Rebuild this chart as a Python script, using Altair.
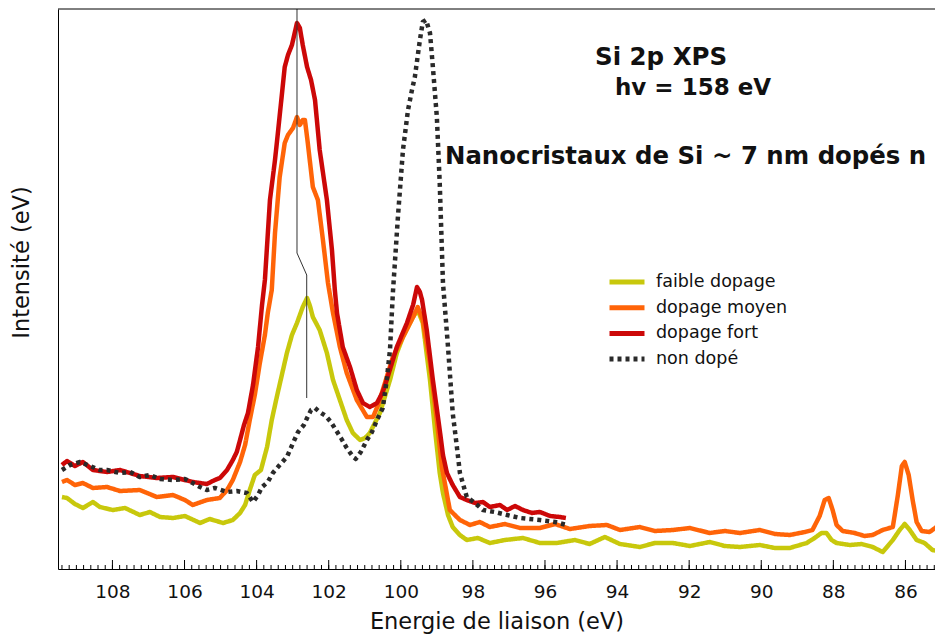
import altair as alt
import numpy as np
import pandas as pd

NAMES = ["faible dopage", "dopage moyen", "dopage fort", "non dopé"]
COLORS = ["#c8c80c", "#ff6408", "#cc0808", "#2a2a2a"]
DASHES = [[1, 0], [1, 0], [1, 0], [4, 4]]

# binding energy (eV) / intensity (arb.)
red_e = [109.40, 109.26, 109.04, 108.82, 108.54, 108.15, 107.79, 107.24, 106.77, 106.32, 105.77, 105.38, 105.16, 105.02, 104.82, 104.66, 104.55, 104.46, 104.35, 104.24, 104.10, 103.96, 103.85, 103.77, 103.63, 103.49, 103.41, 103.22, 103.13, 103.02, 102.88, 102.80, 102.72, 102.60, 102.49, 102.38, 102.25, 102.05, 101.91, 101.83, 101.77, 101.61, 101.41, 101.22, 101.05, 100.86, 100.66, 100.50, 100.39, 100.11, 99.83, 99.66, 99.55, 99.47, 99.41, 99.28, 99.11, 98.92, 98.83, 98.72, 98.56, 98.36, 98.17, 97.94, 97.72, 97.53, 97.25, 97.05, 96.83, 96.61, 96.36, 96.14, 95.86, 95.59, 95.42]
red_i = [104, 108, 103, 107, 99, 97, 99, 93, 91, 92, 87, 85, 89, 91, 99, 109, 117, 129, 144, 156, 184, 222, 264, 289, 369, 409, 436, 502, 514, 524, 546, 541, 524, 502, 489, 469, 419, 369, 319, 279, 256, 222, 202, 179, 166, 162, 166, 177, 189, 222, 246, 264, 282, 277, 269, 239, 189, 139, 114, 96, 84, 72, 69, 66, 67, 62, 64, 59, 63, 59, 56, 57, 53, 52, 51]

org_e = [109.40, 109.26, 109.04, 108.82, 108.54, 108.15, 107.79, 107.24, 106.77, 106.32, 105.99, 105.77, 105.38, 105.02, 104.82, 104.66, 104.46, 104.32, 104.19, 104.05, 103.91, 103.77, 103.69, 103.58, 103.49, 103.36, 103.22, 103.13, 102.99, 102.88, 102.80, 102.72, 102.66, 102.58, 102.44, 102.30, 102.16, 102.02, 101.88, 101.69, 101.50, 101.22, 100.94, 100.77, 100.63, 100.50, 100.22, 99.94, 99.66, 99.53, 99.39, 99.19, 99.00, 98.86, 98.64, 98.36, 98.08, 97.81, 97.53, 97.11, 96.69, 96.14, 95.72, 95.31, 94.76, 94.28, 93.92, 93.37, 92.95, 92.45, 91.98, 91.43, 91.01, 90.59, 90.04, 89.62, 89.21, 88.79, 88.58, 88.38, 88.24, 88.13, 88.02, 87.91, 87.74, 87.41, 87.13, 86.91, 86.63, 86.35, 86.21, 86.10, 86.02, 85.91, 85.80, 85.69, 85.55, 85.33, 85.14, 84.96]
org_i = [87, 89, 84, 86, 81, 82, 78, 79, 72, 74, 69, 64, 69, 71, 79, 89, 107, 124, 149, 174, 206, 234, 256, 279, 336, 392, 426, 434, 441, 452, 444, 449, 449, 426, 382, 369, 329, 286, 256, 222, 196, 169, 152, 152, 164, 179, 212, 232, 252, 262, 249, 206, 149, 102, 59, 49, 44, 47, 42, 45, 41, 41, 45, 40, 43, 44, 39, 42, 38, 39, 41, 36, 38, 36, 39, 35, 34, 37, 39, 53, 69, 71, 59, 44, 38, 36, 33, 34, 39, 42, 74, 103, 107, 94, 69, 47, 38, 37, 42, 36]

yel_e = [109.40, 109.26, 109.04, 108.82, 108.54, 108.35, 107.99, 107.65, 107.24, 106.96, 106.68, 106.32, 105.99, 105.57, 105.30, 104.93, 104.66, 104.46, 104.32, 104.19, 104.05, 103.88, 103.71, 103.58, 103.44, 103.30, 103.16, 103.02, 102.88, 102.72, 102.60, 102.52, 102.44, 102.25, 102.05, 101.88, 101.69, 101.50, 101.33, 101.13, 100.99, 100.86, 100.58, 100.30, 100.11, 99.94, 99.66, 99.53, 99.39, 99.19, 99.05, 98.92, 98.83, 98.69, 98.56, 98.36, 98.17, 97.86, 97.53, 97.11, 96.61, 96.14, 95.67, 95.17, 94.76, 94.34, 93.92, 93.37, 92.95, 92.45, 91.98, 91.43, 91.01, 90.59, 90.04, 89.62, 89.21, 88.74, 88.52, 88.33, 88.19, 88.05, 87.91, 87.55, 87.22, 86.91, 86.63, 86.35, 86.16, 86.02, 85.88, 85.69, 85.47, 85.25, 84.96]
yel_i = [72, 71, 65, 61, 67, 62, 59, 61, 54, 57, 52, 51, 53, 46, 50, 46, 49, 56, 64, 79, 94, 99, 122, 149, 172, 194, 216, 234, 246, 262, 271, 263, 252, 239, 216, 189, 169, 149, 136, 129, 131, 136, 156, 189, 216, 232, 252, 259, 246, 189, 139, 96, 76, 54, 42, 34, 29, 31, 26, 29, 31, 26, 26, 29, 25, 32, 25, 22, 26, 26, 23, 27, 23, 22, 24, 21, 21, 26, 31, 36, 36, 29, 26, 24, 25, 22, 17, 29, 39, 45, 39, 29, 26, 19, 17]

blk_e = [109.40, 109.18, 108.90, 108.62, 108.35, 108.15, 107.79, 107.51, 107.24, 106.96, 106.68, 106.32, 105.99, 105.77, 105.57, 105.38, 105.16, 104.82, 104.55, 104.27, 104.10, 103.96, 103.85, 103.69, 103.55, 103.36, 103.16, 102.99, 102.85, 102.69, 102.60, 102.49, 102.38, 102.25, 102.08, 101.94, 101.80, 101.66, 101.50, 101.36, 101.25, 101.11, 100.94, 100.80, 100.66, 100.50, 100.39, 100.30, 100.22, 100.08, 99.94, 99.80, 99.69, 99.61, 99.47, 99.39, 99.30, 99.19, 99.11, 99.00, 98.92, 98.83, 98.69, 98.56, 98.45, 98.36, 98.17, 97.94, 97.72, 97.39, 97.05, 96.69, 96.14, 95.72, 95.39]
blk_i = [99, 104, 107, 103, 99, 99, 96, 97, 92, 94, 90, 89, 90, 86, 82, 79, 81, 77, 78, 76, 67, 74, 82, 87, 96, 104, 112, 126, 137, 144, 151, 159, 161, 157, 153, 147, 139, 131, 121, 114, 110, 117, 129, 137, 149, 161, 189, 219, 276, 352, 419, 459, 479, 492, 529, 547, 549, 536, 502, 452, 386, 286, 222, 156, 124, 96, 72, 66, 59, 57, 54, 51, 49, 47, 44]

# marker drawn over the Si4+ peak shift
mark_e = [102.88, 102.88, 102.61, 102.61]
mark_i = [560, 316, 294, 171]

X_MAJOR = list(range(86, 110, 2))
X_DOMAIN = [85.18, 109.51]

W, H = 877, 560

rows = []
for name, es, ys in [("faible dopage", yel_e, yel_i), ("dopage moyen", org_e, org_i),
                     ("dopage fort", red_e, red_i), ("non dopé", blk_e, blk_i)]:
    for e, v in zip(es, ys):
        rows.append({"eV": e, "I": v, "s": name})
df = pd.DataFrame(rows)

xscale = alt.Scale(domain=X_DOMAIN, reverse=True, nice=False, zero=False)
yscale = alt.Scale(domain=[0, H], nice=False, zero=False)

xaxis = alt.Axis(values=X_MAJOR, title="Energie de liaison (eV)", grid=False, ticks=False, tickSize=0,
                 labelPadding=13, labelFontSize=18.5, labelFont="DejaVu Sans", labelColor="#111",
                 titleFont="DejaVu Sans", titleFontSize=22.5, titleFontWeight="normal", titleColor="#111",
                 titlePadding=10, domainColor="#000", domainWidth=1)
yaxis = alt.Axis(title="Intensité (eV)", labels=False, ticks=False, grid=False, domainColor="#000",
                 domainWidth=1, titleFont="DejaVu Sans", titleFontSize=22.5, titleFontWeight="normal",
                 titleColor="#111", titlePadding=25, titleY=253)

legend = alt.Legend(title=None, orient="none", legendX=554, legendY=258,
                    symbolType="M-1.4,0H1.4", symbolSize=625, symbolStrokeWidth=5,
                    labelFontSize=17.5, labelFont="DejaVu Sans",
                    labelColor="#111", labelOffset=14, rowPadding=0.7, padding=0)

color = alt.Color("s:N", scale=alt.Scale(domain=NAMES, range=COLORS), legend=legend)
dash = alt.StrokeDash("s:N", scale=alt.Scale(domain=NAMES, range=DASHES), legend=legend)

layers = []
for name in NAMES:
    layers.append(
        alt.Chart(df).transform_filter(alt.datum.s == name)
        .mark_line(strokeWidth=4.5, strokeCap="butt", strokeJoin="round", clip=True)
        .encode(x=alt.X("eV:Q", scale=xscale, axis=xaxis),
                y=alt.Y("I:Q", scale=yscale, axis=yaxis),
                color=color, strokeDash=dash)
    )

mdf = pd.DataFrame({"eV": mark_e, "I": mark_i, "k": list(range(len(mark_e)))})
marker = alt.Chart(mdf).mark_line(color="#333", strokeWidth=1).encode(
    x=alt.X("eV:Q", scale=xscale, axis=xaxis), y=alt.Y("I:Q", scale=yscale, axis=yaxis), order="k:Q")

minor = pd.DataFrame({"eV": np.round(np.arange(85.2, 109.41, 0.2), 2)})
major = pd.DataFrame({"eV": X_MAJOR})
minor_ticks = alt.Chart(minor).mark_rule(color="#000", strokeWidth=1).encode(
    x=alt.X("eV:Q", scale=xscale, axis=xaxis), y=alt.value(H), y2=alt.value(H - 4))
major_ticks = alt.Chart(major).mark_rule(color="#000", strokeWidth=1).encode(
    x=alt.X("eV:Q", scale=xscale, axis=xaxis), y=alt.value(H), y2=alt.value(H - 9))
top_line = alt.Chart(pd.DataFrame({"a": [0]})).mark_rule(color="#000", strokeWidth=1).encode(
    x=alt.value(0), x2=alt.value(W), y=alt.value(0))

def label(txt, x, y, size):
    return alt.Chart(pd.DataFrame({"t": [txt]})).mark_text(
        align="left", baseline="alphabetic", font="DejaVu Sans", fontWeight="bold", fontSize=size,
        color="#111").encode(x=alt.value(x), y=alt.value(y), text="t:N")

texts = [label("Si 2p XPS", 537, 56, 24.5), label("hv = 158 eV", 557, 86, 23),
         label("Nanocristaux de Si ~ 7 nm dopés n", 387, 155, 24.4)]

chart = alt.layer(*layers, marker, minor_ticks, major_ticks, top_line, *texts).properties(
    width=W, height=H, padding={"left": 50, "top": 1, "right": 0, "bottom": 68},
    autosize=alt.AutoSizeParams(type="none"), background="white"
).configure_view(stroke=None)

chart.save("out.html", embed_options={"renderer": "svg", "actions": False})
